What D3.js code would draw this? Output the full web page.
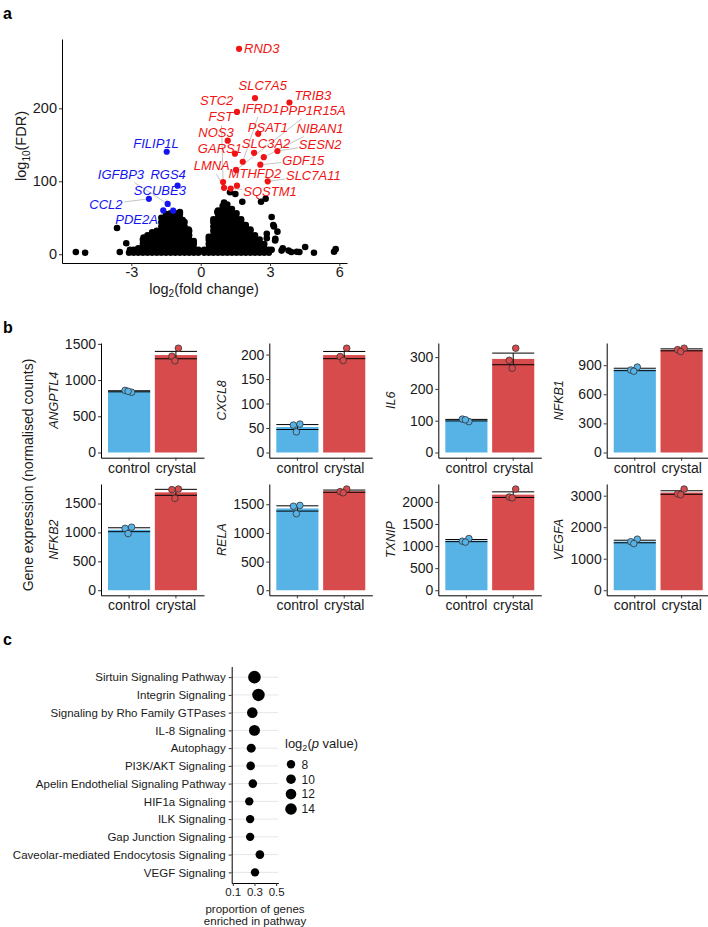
<!DOCTYPE html>
<html>
<head>
<meta charset="utf-8">
<script src="https://cdn.jsdelivr.net/npm/d3@7"></script>
<style>
  body { margin: 0; background: #fff; }
  svg { display: block; }
</style>
</head>
<body>
<svg id="fig" width="708" height="927"></svg>
<script>
// ---------- panel a: volcano ----------
var upGenes = ["RND3", "SLC7A5", "TRIB3", "STC2", "IFRD1", "PPP1R15A", "FST", "PSAT1", "NIBAN1",
    "NOS3", "SLC3A2", "SESN2", "GARS1", "GDF15", "LMNA", "MTHFD2", "SLC7A11", "SQSTM1"];
var upFC = [1.66, 2.35, 3.84, 1.57, 1.82, 1.53, 0.97, 2.49, 2.73, 1.17, 2.31, 3.32, 1.48, 2.58, 1.01, 1.57, 2.90, 1.30];
var upFDR = [281.6, 214, 208, 195, 126.8, 115.5, 99, 165, 133, 155.6, 139, 141.5, 137.8, 122.7, 91, 94, 100, 90];

var downGenes = ["FILIP1L", "IGFBP3", "RGS4", "SCUBE3", "CCL2", "PDE2A"];
var downFC = [-1.47, -1.43, -1.0, -1.19, -2.24, -1.62];
var downFDR = [140.5, 69, 94, 59.7, 76, 60];

// non significant genes, read off column by column: [log2FC, [log10FDR...]]
var nsColumns = [
    [-3.1, [2]],
    [-2.9, [2, 6]],
    [-2.7, [2, 8]],
    [-2.5, [2, 8, 14, 20]],
    [-2.3, [2, 8, 14, 20, 26]],
    [-2.1, [2, 8, 14, 20, 26, 30]],
    [-1.9, [2, 8, 14, 20, 26, 32]],
    [-1.7, [2, 8, 14, 20, 26, 32, 38, 44]],
    [-1.5, [2, 8, 14, 20, 26, 32, 38, 44, 50, 55]],
    [-1.3, [2, 8, 14, 20, 26, 32, 38, 44, 50, 56]],
    [-1.1, [2, 8, 14, 20, 26, 32, 38, 44, 50, 56]],
    [-0.9, [2, 8, 14, 20, 26, 32, 38, 44, 50, 55]],
    [-0.7, [2, 8, 14, 20, 26, 32, 38, 44]],
    [-0.5, [2, 8, 14, 20, 26, 32]],
    [-0.3, [2, 8, 14, 18]],
    [-0.1, [2, 6]],
    [0.15, [2, 6]],
    [0.35, [2, 8, 14, 20, 24]],
    [0.55, [2, 8, 14, 20, 26, 32, 38, 44, 48]],
    [0.75, [2, 8, 14, 20, 26, 32, 38, 44, 50, 56, 60]],
    [0.95, [2, 8, 14, 20, 26, 32, 38, 44, 50, 56, 62, 66]],
    [1.15, [2, 8, 14, 20, 26, 32, 38, 44, 50, 56, 62, 68]],
    [1.35, [2, 8, 14, 20, 26, 32, 38, 44, 50, 56, 62]],
    [1.55, [2, 8, 14, 20, 26, 32, 38, 44, 50, 56]],
    [1.75, [2, 8, 14, 20, 26, 32, 38, 44, 48]],
    [1.95, [2, 8, 14, 20, 26, 32, 38, 40]],
    [2.15, [2, 8, 14, 20, 26, 32, 34]],
    [2.35, [2, 8, 14, 20, 26]],
    [2.55, [2, 8, 14, 20]],
    [2.75, [2, 8, 14]],
    [2.95, [2, 6]]
];
var nsScatter = [[-5.4, 3], [-5.0, 2], [-3.5, 3], [-3.22, 15], [-3.62, 36], [-2.47, 23], [-3.06, 6],
    [-0.9, 58], [-1.7, 50], [-0.78, 47], [-0.52, 34], [1.27, 85], [1.5, 82.6], [1.01, 71], [1.8, 72],
    [2.61, 72], [2.81, 76], [0.72, 58], [3.07, 51], [3.17, 38], [3.23, 21], [2.86, 28], [3.14, 40],
    [3.32, 31], [2.86, 22], [3.22, 19], [3.07, 6], [3.5, 5], [3.55, 8], [3.8, 5], [3.92, 3],
    [4.16, 3.5], [4.27, 3], [4.52, 10], [4.9, 2], [5.77, 3.5], [5.84, 7]];

var fcTicks = [-3, 0, 3, 6];
var fdrTicks = [0, 100, 200];

// ---------- panel b: bars ----------
var genes = ["ANGPTL4", "CXCL8", "IL6", "NFKB1", "NFKB2", "RELA", "TXNIP", "VEGFA"];
var groups = ["control", "crystal"];
var controlReps = [[832, 858, 845], [58, 56, 42], [97, 105, 103], [880, 850, 838],
    [1090, 1070, 980], [1480, 1465, 1335], [1170, 1110, 1090], [1620, 1540, 1480]];
var crystalReps = [[1440, 1330, 1265], [213, 196, 188], [328, 290, 265], [1075, 1060, 1040],
    [1750, 1740, 1590], [1765, 1720, 1700], [2290, 2110, 2090], [3210, 3060, 3030]];
var barTicks = [[0, 500, 1000, 1500], [0, 50, 100, 150, 200], [0, 100, 200, 300], [0, 300, 600, 900],
    [0, 500, 1000, 1500], [0, 500, 1000, 1500], [0, 500, 1000, 1500, 2000], [0, 1000, 2000, 3000]];

// ---------- panel c: pathways ----------
var pathways = ["Sirtuin Signaling Pathway", "Integrin Signaling", "Signaling by Rho Family GTPases",
    "IL-8 Signaling", "Autophagy", "PI3K/AKT Signaling", "Apelin Endothelial Signaling Pathway",
    "HIF1a Signaling", "ILK Signaling", "Gap Junction Signaling",
    "Caveolar-mediated Endocytosis Signaling", "VEGF Signaling"];
var proportion = [0.30, 0.337, 0.28, 0.30, 0.27, 0.265, 0.285, 0.252, 0.26, 0.26, 0.35, 0.305];
var log2p = [16.2, 16, 11.9, 12.7, 9, 8.3, 8.3, 8, 8, 8, 8.5, 8];
var propTicks = [0.1, 0.3, 0.5];
var sizeBreaks = [8, 10, 12, 14];

// ---------- layout ----------
var FONT = '"Liberation Sans", Arial, sans-serif';
var INK = "#1a1a1a";
var svg = d3.select("#fig");

// label offsets (px) from each point, as ggrepel left them
var upLabelOff = [[22.7, 0], [7.7, -13], [23.4, -7.3], [-20.3, -12], [18, -53.7], [76.7, -60],
    [-2.3, -65.3], [9.7, -7], [56.3, -29.3], [-11.7, -8], [12, -10], [42.7, -6.7], [-15, -5.4],
    [43, -4.7], [-12.3, -22.7], [18, -12.4], [45.6, -6.3], [39.3, 2.3]];
var downLabelOff = [[-10.7, -8.4], [-46.7, -30], [-9.4, -11.7], [-13.3, -20], [-43, 5.3], [-26.6, 8.7]];

function styleAxis(g, size) {
    g.attr("font-family", FONT).attr("font-size", size);
    g.select(".domain").attr("stroke", "#000").attr("stroke-width", 1);
    g.selectAll(".tick line").attr("stroke", "#333");
    g.selectAll(".tick text").attr("fill", INK);
}

function letter(t, x, y) {
    svg.append("text").attr("x", x).attr("y", y).text(t)
        .attr("font-family", FONT).attr("font-weight", "bold").attr("font-size", 16).attr("fill", "#000");
}

/* segment from a label box edge to its point */
function segment(b, px, py) {
    var cx = b.x + b.width / 2, cy = b.y + b.height / 2;
    var dx = px - cx, dy = py - cy;
    var hw = b.width / 2 + 1, hh = b.height / 2 + 1;
    if (Math.abs(dx) <= hw && Math.abs(dy) <= hh) return null;
    var t = Math.min(dx ? hw / Math.abs(dx) : Infinity, dy ? hh / Math.abs(dy) : Infinity);
    var sx = cx + dx * t, sy = cy + dy * t;
    var len = Math.hypot(px - sx, py - sy);
    if (len < 7) return null;
    var ex = px - (px - sx) / len * 3, ey = py - (py - sy) / len * 3;
    return [sx, sy, ex, ey];
}

// ===== panel a =====
letter("a", 3, 19);
var xV = d3.scaleLinear().domain([-6.0, 6.33]).range([62, 347]);
var yV = d3.scaleLinear().domain([-12, 295]).range([263, 39]);

var nsPoints = [];
nsColumns.forEach(function(c) { c[1].forEach(function(v) { nsPoints.push([c[0], v]); }); });
nsPoints = nsPoints.concat(nsScatter);

var gA = svg.append("g");
var gNs = gA.append("g"), gSeg = gA.append("g"), gSig = gA.append("g"), gLab = gA.append("g");

gNs.selectAll("circle").data(nsPoints).join("circle")
    .attr("cx", d => xV(d[0])).attr("cy", d => yV(d[1])).attr("r", 3.3).attr("fill", "#000");

var sig = upGenes.map((g, i) => ({name: g, fc: upFC[i], fdr: upFDR[i], off: upLabelOff[i], col: "#f01414"}))
    .concat(downGenes.map((g, i) => ({name: g, fc: downFC[i], fdr: downFDR[i], off: downLabelOff[i], col: "#1414f0"})));

gSig.selectAll("circle").data(sig).join("circle")
    .attr("cx", d => xV(d.fc)).attr("cy", d => yV(d.fdr)).attr("r", 3.1).attr("fill", d => d.col);

sig.forEach(function(d) {
    var px = xV(d.fc), py = yV(d.fdr);
    var t = gLab.append("text")
        .attr("x", px + d.off[0]).attr("y", py + d.off[1]).attr("dy", "0.36em")
        .attr("text-anchor", "middle").attr("font-family", FONT).attr("font-style", "italic")
        .attr("font-size", 13).attr("fill", d.col).text(d.name);
    var s = segment(t.node().getBBox(), px, py);
    if (s) {
        gSeg.append("line").attr("x1", s[0]).attr("y1", s[1]).attr("x2", s[2]).attr("y2", s[3])
            .attr("stroke", "#aaa").attr("stroke-width", 0.7);
    }
});

gA.append("g").attr("transform", "translate(0,263)")
    .call(d3.axisBottom(xV).tickValues(fcTicks).tickSize(3).tickSizeOuter(0).tickPadding(1)
        .tickFormat(d => d < 0 ? "-" + Math.abs(d) : d))
    .call(g => styleAxis(g, 14.5));
gA.append("g").attr("transform", "translate(62,0)")
    .call(d3.axisLeft(yV).tickValues(fdrTicks).tickSize(3).tickSizeOuter(0).tickPadding(2))
    .call(g => styleAxis(g, 14.5));

var xt = gA.append("text").attr("x", 204).attr("y", 294).attr("text-anchor", "middle")
    .attr("font-family", FONT).attr("font-size", 14.5).attr("fill", INK);
xt.append("tspan").text("log");
xt.append("tspan").attr("font-size", 10).attr("dy", 3).text("2");
xt.append("tspan").attr("dy", -3).text("(fold change)");

var yt = gA.append("text").attr("transform", "translate(26,146) rotate(-90)").attr("text-anchor", "middle")
    .attr("font-family", FONT).attr("font-size", 14.5).attr("fill", INK);
yt.append("tspan").text("log");
yt.append("tspan").attr("font-size", 10).attr("dy", 4).text("10");
yt.append("tspan").attr("dy", -4).text("(FDR)");

// ===== panel b =====
letter("b", 3, 333);
var groupColor = {control: "#57b3e6", crystal: "#d84b4c"};
var colX = [101, 269.3, 438.3, 606.7];
var rowY = [[343, 457.7], [484, 595.3]];
var plotW = 103;
var jitter = [2.5, -4, -1];

genes.forEach(function(gene, i) {
    var x0 = colX[i % 4], top = rowY[Math.floor(i / 4)][0], bot = rowY[Math.floor(i / 4)][1];
    var reps = [controlReps[i], crystalReps[i]];
    var stats = reps.map((r, k) => ({
        group: groups[k], vals: r, mean: d3.mean(r), se: d3.deviation(r) / Math.sqrt(r.length)
    }));
    var ymax = d3.max(stats, s => Math.max(d3.max(s.vals), s.mean + s.se));
    var x = d3.scaleBand().domain(groups).range([x0, x0 + plotW]).paddingInner(0.1).paddingOuter(0.15);
    var y = d3.scaleLinear().domain([-0.05 * ymax, 1.05 * ymax]).range([bot, top]);
    var bw = x.bandwidth();
    var g = svg.append("g");

    g.selectAll("rect").data(stats).join("rect")
        .attr("x", d => x(d.group)).attr("width", bw)
        .attr("y", d => y(d.mean)).attr("height", d => y(0) - y(d.mean))
        .attr("fill", d => groupColor[d.group]);

    // error bars (mean +/- se)
    var eb = g.selectAll("g.eb").data(stats).join("g").attr("class", "eb")
        .attr("stroke", "#000").attr("stroke-width", 1);
    eb.append("line").attr("x1", d => x(d.group)).attr("x2", d => x(d.group) + bw)
        .attr("y1", d => y(d.mean + d.se)).attr("y2", d => y(d.mean + d.se));
    eb.append("line").attr("x1", d => x(d.group)).attr("x2", d => x(d.group) + bw)
        .attr("y1", d => y(d.mean - d.se)).attr("y2", d => y(d.mean - d.se));
    eb.append("line").attr("x1", d => x(d.group) + bw / 2).attr("x2", d => x(d.group) + bw / 2)
        .attr("y1", d => y(d.mean - d.se)).attr("y2", d => y(d.mean + d.se));

    stats.forEach(function(s) {
        g.append("g").selectAll("circle").data(s.vals).join("circle")
            .attr("cx", (v, j) => x(s.group) + bw / 2 + jitter[j])
            .attr("cy", v => y(v)).attr("r", 3.3)
            .attr("fill", groupColor[s.group]).attr("stroke", "#333").attr("stroke-width", 0.8);
    });

    g.append("g").attr("transform", "translate(" + x0 + ",0)")
        .call(d3.axisLeft(y).tickValues(barTicks[i]).tickSize(3).tickSizeOuter(0).tickPadding(2)
            .tickFormat(d3.format("d")))
        .call(a => styleAxis(a, 14));
    g.append("g").attr("transform", "translate(0," + bot + ")")
        .call(d3.axisBottom(x).tickSize(3).tickSizeOuter(0).tickPadding(2))
        .call(a => styleAxis(a, 14));

    g.append("text").attr("transform", "translate(" + (x0 - 48) + "," + ((top + bot) / 2) + ") rotate(-90)")
        .attr("dy", "0.36em").attr("text-anchor", "middle").attr("font-family", FONT)
        .attr("font-style", "italic").attr("font-size", 12.5).attr("fill", INK).text(gene);
});

svg.append("text").attr("transform", "translate(28,475) rotate(-90)").attr("dy", "0.36em")
    .attr("text-anchor", "middle").attr("font-family", FONT).attr("font-size", 14).attr("fill", INK)
    .text("Gene expression (normalised counts)");

// ===== panel c =====
letter("c", 3, 645);
var xC = d3.scaleLinear().domain([0.09, 0.52]).range([231.7, 278.3]);
var yC = d3.scalePoint().domain(pathways).range([666.5, 883]).padding(0.6);
var area = d3.scaleLinear().domain([8, 14]).range([17.6, 33.6]);
var gC = svg.append("g");

gC.selectAll("line.grid").data(pathways).join("line").attr("class", "grid")
    .attr("x1", xC.range()[0]).attr("x2", xC.range()[1])
    .attr("y1", d => yC(d)).attr("y2", d => yC(d)).attr("stroke", "#e6e6e6").attr("stroke-width", 1);

gC.selectAll("circle").data(pathways).join("circle")
    .attr("cx", (d, i) => xC(proportion[i])).attr("cy", d => yC(d))
    .attr("r", (d, i) => Math.sqrt(area(log2p[i]))).attr("fill", "#000");

gC.append("g").attr("transform", "translate(231.7,0)")
    .call(d3.axisLeft(yC).tickSize(3).tickSizeOuter(0).tickPadding(3))
    .call(a => styleAxis(a, 11.5));
gC.append("g").attr("transform", "translate(0,883)")
    .call(d3.axisBottom(xC).tickValues(propTicks).tickSize(3).tickSizeOuter(0).tickPadding(2)
        .tickFormat(d3.format(".1f")))
    .call(a => styleAxis(a, 11.5));

gC.append("text").attr("x", 255).attr("y", 913).attr("text-anchor", "middle")
    .attr("font-family", FONT).attr("font-size", 11.5).attr("fill", INK).text("proportion of genes");
gC.append("text").attr("x", 255).attr("y", 924.5).attr("text-anchor", "middle")
    .attr("font-family", FONT).attr("font-size", 11.5).attr("fill", INK).text("enriched in pathway");

// legend
var lt = gC.append("text").attr("x", 285).attr("y", 747.5)
    .attr("font-family", FONT).attr("font-size", 13).attr("fill", INK);
lt.append("tspan").text("log");
lt.append("tspan").attr("font-size", 9).attr("dy", 3).text("2");
lt.append("tspan").attr("dy", -3).text("(");
lt.append("tspan").attr("font-style", "italic").text("p");
lt.append("tspan").text(" value)");

var legY = d3.scalePoint().domain(sizeBreaks).range([764.3, 809]);
var leg = gC.selectAll("g.leg").data(sizeBreaks).join("g").attr("class", "leg")
    .attr("transform", d => "translate(291," + legY(d) + ")");
leg.append("circle").attr("r", d => Math.sqrt(area(d))).attr("fill", "#000");
leg.append("text").attr("x", 10.5).attr("dy", "0.36em").attr("font-family", FONT)
    .attr("font-size", 12).attr("fill", INK).text(d => d);
</script>
</body>
</html>
